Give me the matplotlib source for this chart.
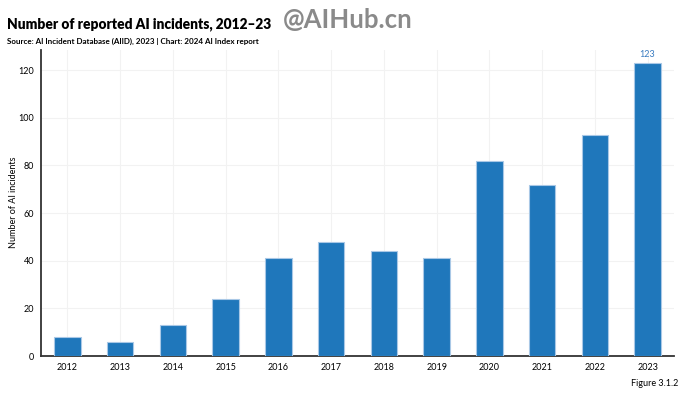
import matplotlib
matplotlib.use("Agg")
import matplotlib.pyplot as plt

years = ["2012", "2013", "2014", "2015", "2016", "2017", "2018", "2019", "2020", "2021", "2022", "2023"]
incidents = [8, 6, 13, 24, 41, 48, 44, 41, 82, 72, 93, 123]
yticks = [0, 20, 40, 60, 80, 100, 120]

plt.rcParams['font.family'] = ['Lato', 'DejaVu Sans']

fig = plt.figure(figsize=(6.98, 3.98), dpi=100)
ax = fig.add_axes([41/698, 1-356/398, (674-41)/698, (356-50)/398])

x = list(range(len(years)))
ax.bar(x, incidents, width=0.5, color="#1f77bb", edgecolor="#a9c8e6", linewidth=0.8, zorder=3)
ax.set_xlim(-0.5, len(years)-0.5)
ax.set_ylim(0, 128.5)
ax.set_xticks(x)
ax.set_xticklabels(years, fontsize=6.5)
ax.set_yticks(yticks)
ax.set_yticklabels([str(v) for v in yticks], fontsize=6.5)
ax.tick_params(axis='both', length=0, pad=5)
ax.grid(True, color="#f2f2f2", linewidth=0.8, zorder=0)
for s in ["top", "right"]:
    ax.spines[s].set_visible(False)
for s in ["left", "bottom"]:
    ax.spines[s].set_color("#333333")
    ax.spines[s].set_linewidth(1.3)

fig.text(14/698, 1-202/398, "Number of AI incidents", fontsize=6.5, rotation=90, va="center", ha="center")

ax.annotate(str(incidents[-1]), (x[-1], incidents[-1]), xytext=(0, 3), textcoords="offset points",
            ha="center", va="bottom", fontsize=6.5, color="#3a7cc0")

fig.text(7/698, 1-24/398, "Number of reported AI incidents, 2012–23", fontsize=9.9, fontweight="heavy",
         va="center", ha="left")
fig.text(7/698, 1-41/398, "Source: AI Incident Database (AIID), 2023 | Chart: 2024 AI Index report", fontsize=5.8,
         fontweight="bold", va="center", ha="left")
fig.text(283/698, 1-20/398, "@AIHub.cn", fontsize=18.5, color="#8a8a8a", fontweight="bold", va="center", ha="left")
fig.text(678/698, 1-383/398, "Figure 3.1.2", fontsize=6.5, va="center", ha="right")

fig.savefig("out.png", dpi=100)
